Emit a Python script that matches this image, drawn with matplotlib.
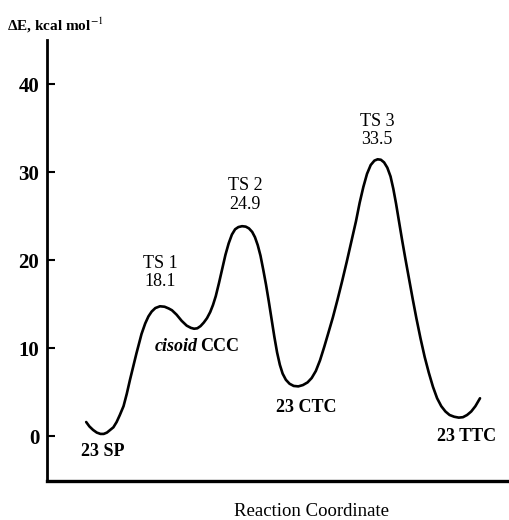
import matplotlib
matplotlib.use("Agg")
import matplotlib.pyplot as plt

# energy profile (reaction coordinate in arbitrary units 0-100)
coord = [8.5, 9.2, 10.0, 10.8, 11.6, 12.3, 13.0, 13.7, 14.4, 15.1, 15.8, 16.6,
         17.3, 18.0, 18.7, 19.4, 20.0, 20.5, 21.3, 22.0, 22.7, 23.5, 24.5, 25.5,
         26.4, 27.1, 28.1, 29.2, 30.3, 31.2, 31.9, 32.6, 33.3, 34.0, 34.7, 35.4,
         36.0, 36.6, 37.3, 38.0, 38.7, 39.4, 40.1, 40.8, 41.5, 42.3, 43.1, 43.8,
         44.5, 45.1, 45.7, 46.3, 46.9, 47.5, 48.1, 48.7, 49.3, 49.9, 50.5, 51.1,
         51.8, 52.6, 53.5, 54.5, 55.5, 56.5, 57.4, 58.3, 59.2, 60.1, 61.0, 62.0,
         63.0, 64.0, 65.0, 66.0, 67.0, 67.8, 68.6, 69.4, 70.2, 71.0, 71.7, 72.4,
         73.1, 73.8, 74.5, 75.1, 75.7, 76.3, 77.0, 77.7, 78.5, 79.3, 80.1, 81.0,
         81.9, 82.8, 83.7, 84.6, 85.5, 86.4, 87.3, 88.3, 89.3, 90.2, 91.1, 92.0,
         92.9, 93.9]
energy = [1.6, 1.1, 0.7, 0.4, 0.25, 0.25, 0.4, 0.7, 1.0, 1.6, 2.4, 3.4,
          4.8, 6.4, 7.9, 9.4, 10.6, 11.6, 12.8, 13.6, 14.15, 14.55, 14.75, 14.7,
          14.5, 14.3, 13.8, 13.1, 12.55, 12.3, 12.2, 12.25, 12.5, 12.9, 13.4, 14.1,
          14.9, 15.9, 17.4, 19.0, 20.6, 21.9, 22.9, 23.5, 23.75, 23.85, 23.8, 23.6,
          23.2, 22.6, 21.7, 20.5, 18.9, 17.2, 15.3, 13.3, 11.3, 9.5, 8.1, 7.1,
          6.4, 5.95, 5.7, 5.65, 5.8, 6.1, 6.6, 7.4, 8.6, 10.1, 11.7, 13.5,
          15.5, 17.6, 19.8, 22.1, 24.4, 26.5, 28.3, 29.8, 30.8, 31.3, 31.45, 31.4,
          31.1, 30.5, 29.5, 28.1, 26.4, 24.5, 22.3, 20.2, 17.9, 15.6, 13.4, 11.1,
          9.0, 7.2, 5.6, 4.3, 3.4, 2.8, 2.4, 2.2, 2.1, 2.15, 2.4, 2.8,
          3.4, 4.3]

ts_labels = ["TS 1\n18.1", "TS 2\n24.9", "TS 3\n33.5"]
ts_x = [24.5, 43.0, 71.6]
ts_y = [18.6, 27.4, 34.7]

min_labels = ["23 SP", "23 CTC", "23 TTC"]
min_x = [12.1, 56.2, 90.9]
min_y = [-1.8, 3.3, 0.0]

yticks = [0, 10, 20, 30, 40]

serif = "Liberation Serif"

fig = plt.figure(figsize=(5.09, 5.2), dpi=100)
ax = fig.add_axes([0.0923, 0.075, 0.906, 0.848])

ax.plot(coord, energy, color="black", lw=1.9, solid_joinstyle="round",
        solid_capstyle="round")

ax.set_xlim(0, 100)
ax.set_ylim(-5.1, 45)
ax.set_xticks([])
ax.set_yticks(yticks)
ax.set_yticklabels([str(t) for t in yticks], fontfamily=serif,
                   fontweight="bold", fontsize=15)
ax.tick_params(axis="y", direction="in", length=6, width=1.5, pad=5.5)

for side in ["top", "right"]:
    ax.spines[side].set_visible(False)
ax.spines["left"].set_linewidth(2.0)
ax.spines["bottom"].set_linewidth(2.4)

for lab, x, y in zip(ts_labels, ts_x, ts_y):
    ax.text(x, y, lab, ha="center", va="center", fontfamily=serif,
            fontsize=13, linespacing=1.1)

for lab, x, y in zip(min_labels, min_x, min_y):
    ax.text(x, y, lab, ha="center", va="center", fontfamily=serif,
            fontsize=13, fontweight="bold")

ax.text(32.6, 10.2, "cisoid", ha="right", va="center", fontfamily=serif,
        fontsize=13, fontweight="bold", fontstyle="italic")
ax.text(33.3, 10.2, "CCC", ha="left", va="center", fontfamily=serif,
        fontsize=13, fontweight="bold")

plt.rcParams["mathtext.fontset"] = "stix"
fig.text(7 / 509, 1 - 25 / 520, r"ΔE, kcal mol$^{-1}$", ha="left", va="center",
         fontfamily=serif, fontsize=11, fontweight="bold")
fig.text(312 / 509, 1 - 512 / 520, "Reaction Coordinate", ha="center",
         va="center", fontfamily=serif, fontsize=13.5)

fig.savefig("out.png", dpi=100)
